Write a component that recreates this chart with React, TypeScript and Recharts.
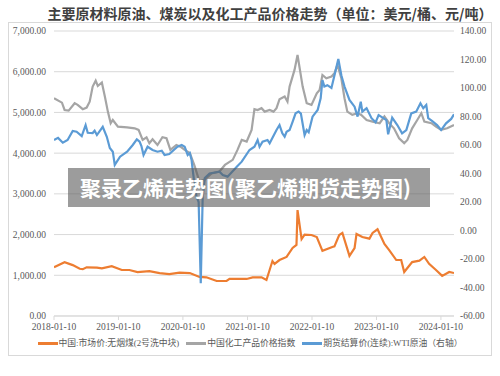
import React from "react"
import {
  LineChart,
  Line,
  XAxis,
  YAxis,
  CartesianGrid,
} from "recharts"

// 中国:市场价:无烟煤(2号洗中块) — 元/吨, left axis
const coalDates = [
  "2018-01-10", "2018-03-11", "2018-04-26", "2018-06-05", "2018-06-22", "2018-07-14",
  "2018-09-10", "2018-10-08", "2018-12-03", "2019-01-29", "2019-03-13", "2019-04-28",
  "2019-07-04", "2019-08-31", "2019-10-25", "2019-12-22", "2020-02-18", "2020-04-13",
  "2020-05-22", "2020-07-19", "2020-09-13", "2020-09-30", "2021-01-05", "2021-02-08",
  "2021-03-30", "2021-04-27", "2021-05-31", "2021-06-12", "2021-07-10", "2021-08-19",
  "2021-09-22", "2021-10-14", "2021-10-20", "2021-11-12", "2021-11-29", "2022-01-07",
  "2022-02-06", "2022-03-10", "2022-05-05", "2022-05-17", "2022-06-13", "2022-07-01",
  "2022-08-10", "2022-09-08", "2022-09-19", "2022-10-22", "2022-12-01", "2022-12-19",
  "2023-01-16", "2023-02-24", "2023-03-23", "2023-05-02", "2023-05-30", "2023-06-16",
  "2023-07-04", "2023-07-31", "2023-09-10", "2023-10-08", "2023-11-04", "2023-12-13",
  "2024-01-17", "2024-02-26", "2024-03-24",
]
const coalValues = [
  1200, 1320, 1250, 1160, 1150, 1195,
  1190, 1170, 1225, 1130, 1130, 1080,
  1100, 1055, 1030, 1065, 1055, 960,
  950, 860, 860, 910, 910, 950,
  950, 885, 1350, 1280, 1375, 1450,
  1670, 1745, 2600, 1890, 2000, 1990,
  1940, 1600, 1695, 1710, 1990, 2040,
  1475, 1670, 2015, 1940, 1900, 2040,
  2130, 1770, 1620, 1375, 1375, 1080,
  1180, 1325, 1360, 1450, 1280, 1130,
  985, 1080, 1055,
]

// 中国化工产品价格指数 — left axis
const chemDates = [
  "2018-01-10", "2018-02-24", "2018-03-11", "2018-04-03", "2018-05-07", "2018-05-24",
  "2018-06-22", "2018-07-14", "2018-07-31", "2018-08-17", "2018-09-03", "2018-09-15",
  "2018-10-08", "2018-10-25", "2018-11-11", "2018-11-27", "2018-12-09", "2019-01-07",
  "2019-02-28", "2019-04-12", "2019-05-04", "2019-05-27", "2019-06-18", "2019-07-04",
  "2019-07-22", "2019-08-19", "2019-09-16", "2019-10-09", "2019-10-31", "2019-12-04",
  "2019-12-27", "2020-01-20", "2020-02-18", "2020-03-15", "2020-04-13", "2020-05-13",
  "2020-06-20", "2020-08-04", "2020-09-04", "2020-10-18", "2020-11-14", "2020-12-08",
  "2021-01-05", "2021-02-02", "2021-02-18", "2021-03-08", "2021-03-30", "2021-04-17",
  "2021-05-15", "2021-06-06", "2021-06-23", "2021-07-10", "2021-08-08", "2021-08-24",
  "2021-09-05", "2021-10-03", "2021-10-20", "2021-11-18", "2021-12-11", "2022-01-07",
  "2022-02-06", "2022-02-22", "2022-03-10", "2022-04-01", "2022-04-30", "2022-05-17",
  "2022-06-03", "2022-06-25", "2022-07-13", "2022-07-29", "2022-08-26", "2022-09-25",
  "2022-10-16", "2022-11-15", "2022-12-19", "2023-01-28", "2023-02-24", "2023-03-23",
  "2023-04-19", "2023-05-18", "2023-06-16", "2023-07-04", "2023-07-31", "2023-08-29",
  "2023-09-21", "2023-10-08", "2023-11-17", "2023-12-13", "2024-01-11", "2024-02-14",
  "2024-03-24",
]
const chemValues = [
  5350, 5240, 5060, 5045, 5225, 5185,
  5080, 5120, 5265, 5635, 5780, 5650,
  5735, 5390, 5020, 4735, 4815, 4650,
  4635, 4610, 4570, 4325, 4390, 4245,
  4340, 4200, 4390, 4365, 4080, 4200,
  4160, 4080, 4005, 3700, 3300, 3350,
  3500, 3550, 3710, 3835, 4080, 4325,
  4285, 4570, 5080, 5060, 5105, 5020,
  5060, 5020, 5105, 5325, 5390, 5265,
  5635, 6045, 6410, 5635, 5225, 5185,
  5470, 5550, 5920, 5840, 5880, 5960,
  6170, 5840, 5350, 5020, 4940, 4980,
  4940, 4815, 4775, 4735, 4900, 4735,
  4610, 4365, 4245, 4325, 4610, 4815,
  4980, 4775, 4735, 4650, 4570, 4610,
  4690,
]

// 期货结算价(连续):WTI原油 — 美元/桶, right axis
const wtiDates = [
  "2018-01-10", "2018-02-02", "2018-03-01", "2018-03-28", "2018-04-26", "2018-05-18",
  "2018-06-16", "2018-07-08", "2018-07-20", "2018-08-17", "2018-08-28", "2018-09-10",
  "2018-10-13", "2018-11-05", "2018-11-22", "2018-12-09", "2018-12-20", "2019-01-19",
  "2019-02-28", "2019-04-01", "2019-04-24", "2019-05-10", "2019-05-20", "2019-06-01",
  "2019-06-24", "2019-07-22", "2019-08-19", "2019-09-12", "2019-09-28", "2019-10-25",
  "2019-12-10", "2020-01-03", "2020-01-20", "2020-02-06", "2020-02-18", "2020-02-28",
  "2020-03-04", "2020-03-15", "2020-03-27", "2020-04-08", "2020-04-20", "2020-05-01",
  "2020-05-13", "2020-06-09", "2020-08-04", "2020-08-23", "2020-09-19", "2020-11-10",
  "2020-12-08", "2021-01-21", "2021-02-18", "2021-03-08", "2021-03-19", "2021-04-05",
  "2021-05-03", "2021-05-15", "2021-06-23", "2021-07-10", "2021-07-26", "2021-08-08",
  "2021-08-19", "2021-09-05", "2021-09-22", "2021-10-09", "2021-10-26", "2021-11-08",
  "2021-11-29", "2021-12-11", "2021-12-22", "2022-01-13", "2022-02-11", "2022-02-28",
  "2022-03-10", "2022-03-21", "2022-04-07", "2022-04-30", "2022-05-22", "2022-06-08",
  "2022-06-25", "2022-07-13", "2022-08-10", "2022-09-08", "2022-09-25", "2022-10-13",
  "2022-10-22", "2022-11-15", "2022-12-13", "2023-01-05", "2023-01-22", "2023-02-14",
  "2023-03-07", "2023-03-17", "2023-04-09", "2023-05-08", "2023-06-04", "2023-06-28",
  "2023-07-26", "2023-08-23", "2023-09-16", "2023-10-02", "2023-10-19", "2023-10-30",
  "2023-11-22", "2023-12-19", "2024-01-11", "2024-02-08", "2024-03-08", "2024-03-24",
]
const wtiValues = [
  63.5, 65, 61.6, 63.5, 69.8, 69.3,
  66.3, 74, 68.6, 68.4, 70, 67,
  72.8, 65.8, 57.9, 55.3, 46, 51.8,
  55.3, 60, 64, 62.3, 59.3, 53,
  58.8, 56.5, 55.3, 56, 53, 53.7,
  58.8, 60, 58.8, 53, 54.4, 49.5,
  43.9, 33.3, 23.7, 20, -37, 23.7,
  36.8, 40, 41.3, 39, 37.8, 44.8,
  48.3, 56.5, 58.8, 63.5, 58.8, 62.3,
  63.5, 61.2, 70.5, 74, 68.2, 65.8,
  69.3, 70.5, 76.3, 82.2, 83.4, 82,
  67, 70.5, 69, 79.9, 84.6, 92.8,
  105.6, 101, 102, 100, 111.4, 120.4,
  109, 101, 91.6, 86.9, 79.9, 90.4,
  83.4, 85.8, 78.8, 75.9, 81, 79.2,
  77.5, 67.5, 79.2, 74, 68.2, 70.5,
  82.2, 83.4, 89.3, 85.8, 88.1, 78.8,
  76.8, 74, 70.5, 75.2, 78.3, 81.5,
]

const years = [2018, 2019, 2020, 2021, 2022, 2023, 2024]
const leftTicks = [0, 1000, 2000, 3000, 4000, 5000, 6000, 7000]
const rightTicks = [-60, -40, -20, 0, 20, 40, 60, 80, 100, 120, 140]

const seriesNames = [
  "中国:市场价:无烟煤(2号洗中块)",
  "中国化工产品价格指数",
  "期货结算价(连续):WTI原油（右轴）",
]
const seriesColors = ["#ED7D31", "#A5A5A5", "#5B9BD5"]

const toPoints = (dates: string[], values: number[]) =>
  dates.map((d, i) => ({ t: Date.parse(d), v: values[i] }))

const coalData = toPoints(coalDates, coalValues)
const chemData = toPoints(chemDates, chemValues)
const wtiData = toPoints(wtiDates, wtiValues)

const xTicks = years.map(y => Date.UTC(y, 0, 10))
const xDomain = [Date.parse("2018-01-10"), Date.parse("2024-03-24")]

const tickStyle = { fontSize: 9.5, fill: "#595959", fontFamily: "Liberation Serif" }

export default function App() {
  return (
    <div
      style={{
        position: "absolute",
        left: 0,
        top: 0,
        width: 500,
        height: 376,
        background: "#fff",
        overflow: "hidden",
      }}
    >
      <div
        style={{
          position: "absolute",
          left: 8,
          top: 22,
          width: 484,
          height: 334,
          border: "1px solid #d9d9d9",
          boxSizing: "border-box",
        }}
      />
      <div
        style={{
          position: "absolute",
          left: 6,
          top: 3,
          width: 528,
          textAlign: "center",
          fontFamily: "Noto Sans CJK SC",
          fontWeight: 700,
          fontSize: 14,
          lineHeight: "20px",
          color: "#404040",
        }}
      >
        主要原材料原油、煤炭以及化工产品价格走势（单位：美元/桶、元/吨）
      </div>

      <div style={{ position: "absolute", left: 0, top: 0 }}>
        <LineChart
          width={500}
          height={340}
          margin={{ top: 31, right: 0, bottom: 0, left: 0 }}
        >
          <CartesianGrid
            yAxisId="left"
            vertical={false}
            stroke="#d9d9d9"
          />
          <XAxis
            dataKey="t"
            type="number"
            domain={xDomain}
            ticks={xTicks}
            allowDataOverflow
            tickFormatter={v => `${new Date(v).getUTCFullYear()}-01-10`}
            tick={tickStyle}
            axisLine={{ stroke: "#d9d9d9" }}
            tickLine={{ stroke: "#d9d9d9" }}
            tickSize={4}
            tickMargin={3}
            height={24}
          />
          <YAxis
            yAxisId="left"
            domain={[0, 7000]}
            ticks={leftTicks}
            tickFormatter={v =>
              v.toLocaleString("en-US", { minimumFractionDigits: 2, maximumFractionDigits: 2 })
            }
            tick={tickStyle}
            axisLine={false}
            tickLine={false}
            width={54}
          />
          <YAxis
            yAxisId="right"
            orientation="right"
            domain={[-60, 140]}
            ticks={rightTicks}
            tickFormatter={v => v.toFixed(2)}
            tick={tickStyle}
            axisLine={false}
            tickLine={false}
            tickMargin={0}
            width={46}
          />
          <Line
            yAxisId="left"
            data={coalData}
            dataKey="v"
            stroke={seriesColors[0]}
            strokeWidth={2.2}
            dot={false}
            isAnimationActive={false}
          />
          <Line
            yAxisId="left"
            data={chemData}
            dataKey="v"
            stroke={seriesColors[1]}
            strokeWidth={2.2}
            dot={false}
            isAnimationActive={false}
          />
          <Line
            yAxisId="right"
            data={wtiData}
            dataKey="v"
            stroke={seriesColors[2]}
            strokeWidth={2.2}
            dot={false}
            isAnimationActive={false}
          />
        </LineChart>
      </div>

      {/* legend */}
      <div
        style={{
          position: "absolute",
          left: 0,
          top: 336,
          width: 500,
          display: "flex",
          justifyContent: "center",
          alignItems: "center",
          gap: 7,
          fontFamily: "Liberation Serif, Noto Sans CJK SC",
          fontSize: 8.8,
          color: "#595959",
          lineHeight: "14px",
        }}
      >
        {seriesNames.map((name, i) => (
          <div key={name} style={{ display: "flex", alignItems: "center" }}>
            <span
              style={{
                display: "inline-block",
                width: 20,
                height: 3,
                background: seriesColors[i],
                marginRight: 1,
              }}
            />
            <span>{name}</span>
          </div>
        ))}
      </div>

      {/* watermark band */}
      <div
        style={{
          position: "absolute",
          left: 68,
          top: 168,
          width: 362,
          height: 39,
          background: "rgba(90,90,90,0.6)",
          color: "#fff",
          fontFamily: "Noto Sans CJK SC",
          fontWeight: 700,
          fontSize: 21,
          lineHeight: "39px",
          paddingLeft: 12,
          boxSizing: "border-box",
          whiteSpace: "nowrap",
        }}
      >
        聚录乙烯走势图(聚乙烯期货走势图)
      </div>
    </div>
  )
}
